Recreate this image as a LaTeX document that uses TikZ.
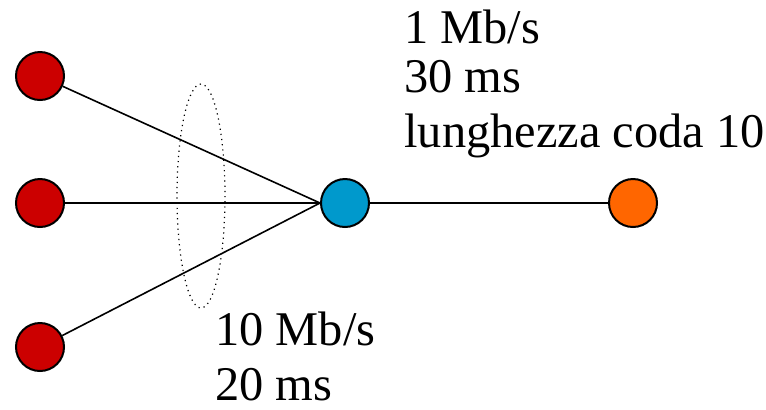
\documentclass[tikz,border=0pt]{standalone}
\usepackage{fontspec}
\setmainfont{Liberation Serif}
\definecolor{srcred}{HTML}{CC0000}
\definecolor{routerblue}{HTML}{0099CC}
\definecolor{sinkorange}{HTML}{FF6600}
\begin{document}
\begin{tikzpicture}[
            x=0.5pt, y=-0.5pt,
            source/.style={circle, draw=black, fill=srcred, line width=1pt, minimum size=24pt, inner sep=0pt},
            router/.style={circle, draw=black, fill=routerblue, line width=1pt, minimum size=24pt, inner sep=0pt},
            sink/.style={circle, draw=black, fill=sinkorange, line width=1pt, minimum size=24pt, inner sep=0pt},
            link/.style={draw=black, line width=0.8pt},
            linklabel/.style={anchor=north west, inner sep=0pt, align=left, font=\fontsize{24.2}{27.5}\selectfont}
        ]
        \useasboundingbox (0,0) rectangle (766,409);

        % ==========================================
        % NODES
        % ==========================================
        \node[source] (s1) at (40, 76) {};
        \node[source] (s2) at (40, 203) {};
        \node[source] (s3) at (40, 347) {};
        \node[router] (r) at (345, 203) {};
        \node[sink] (d) at (633, 203) {};

        % ==========================================
        % LINKS
        % ==========================================
        \draw[link] (s1) -- (r.west);
        \draw[link] (s2) -- (r.west);
        \draw[link] (s3) -- (r.west);
        \draw[link] (r) -- (d);

        % access links grouped by a dotted ellipse
        \draw[dotted, line width=0.6pt] (201, 196) ellipse [x radius=24, y radius=112];

        % ==========================================
        % LABELS
        % ==========================================
        \node[linklabel] (bottleneck) at (404, 10) {1 Mb/s\\[-3pt]30 ms\\lunghezza coda 10};
        \node[linklabel] (access) at (215, 312) {10 Mb/s\\20 ms};

        \end{tikzpicture}
\end{document}
